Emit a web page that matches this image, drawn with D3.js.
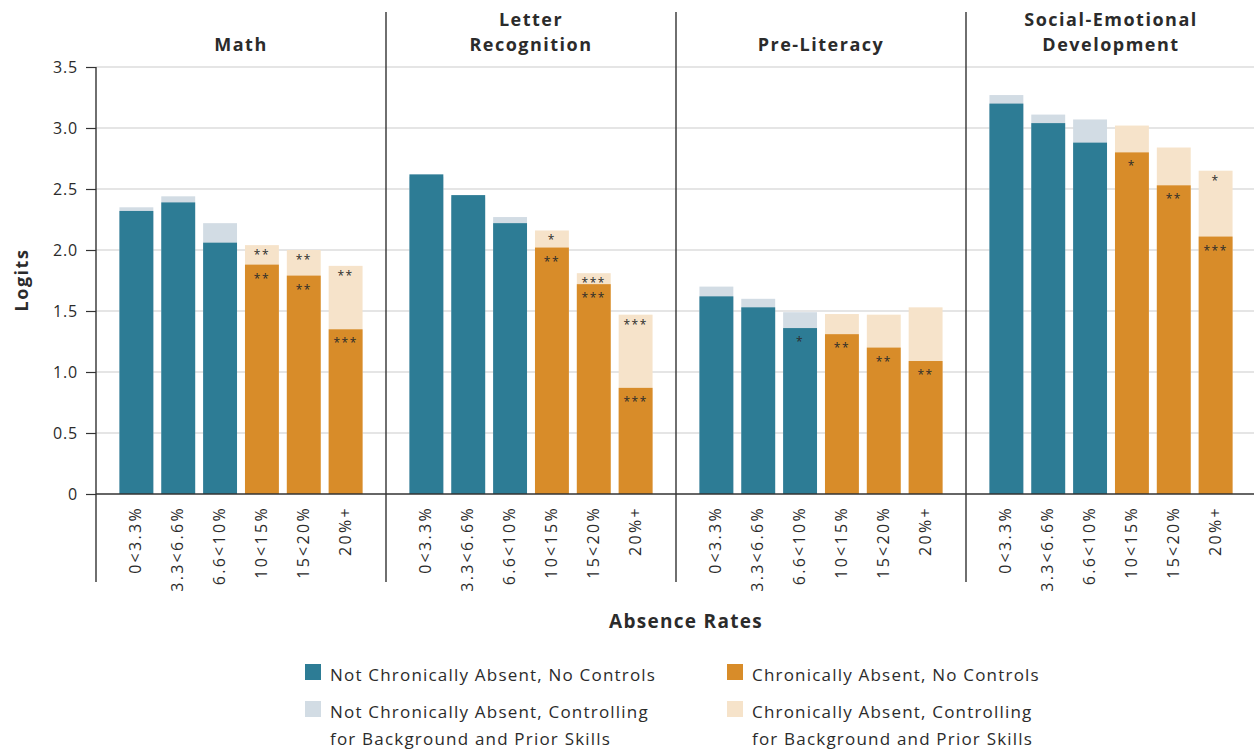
<!DOCTYPE html>
<html><head><meta charset="utf-8">
<script src="https://cdn.jsdelivr.net/npm/d3@7"></script>
<style>
body{margin:0;background:#fff;}
text{font-family:"Open Sans","DejaVu Sans",sans-serif;fill:#2b2b2b;}
</style></head>
<body><svg id="chart" width="1254" height="749"></svg>
<script>
const categories = ["0<3.3%","3.3<6.6%","6.6<10%","10<15%","15<20%","20%+"];
const chronic = [false,false,false,true,true,true];
const panelTitles = [["Math"],["Letter","Recognition"],["Pre-Literacy"],["Social-Emotional","Development"]];
const yTicks = [0,0.5,1.0,1.5,2.0,2.5,3.0,3.5];
const yTickLabels = ["0","0.5","1.0","1.5","2.0","2.5","3.0","3.5"];

const mathNoControls   = [2.32, 2.39, 2.06, 1.88, 1.79, 1.35];
const mathControls     = [2.35, 2.44, 2.22, 2.04, 2.00, 1.87];
const letterNoControls = [2.62, 2.45, 2.22, 2.02, 1.72, 0.87];
const letterControls   = [2.60, 2.43, 2.27, 2.16, 1.81, 1.47];
const preLitNoControls = [1.62, 1.53, 1.36, 1.31, 1.20, 1.09];
const preLitControls   = [1.70, 1.60, 1.49, 1.475, 1.47, 1.53];
const socialNoControls = [3.20, 3.04, 2.88, 2.80, 2.53, 2.11];
const socialControls   = [3.27, 3.11, 3.07, 3.02, 2.84, 2.65];

const mathStarsNo     = ["","","","**","**","***"];
const mathStarsCtrl   = ["","","","**","**","**"];
const letterStarsNo   = ["","","","**","***","***"];
const letterStarsCtrl = ["","","","*","***","***"];
const preLitStarsNo   = ["","","*","**","**","**"];
const preLitStarsCtrl = ["","","","","",""];
const socialStarsNo   = ["","","","*","**","***"];
const socialStarsCtrl = ["","","","","","*"];

const legendLabels = [
  ["Not Chronically Absent, No Controls"],
  ["Chronically Absent, No Controls"],
  ["Not Chronically Absent, Controlling","for Background and Prior Skills"],
  ["Chronically Absent, Controlling","for Background and Prior Skills"]
];

const panelsData = [
  {no: mathNoControls, ctrl: mathControls, sNo: mathStarsNo, sCtrl: mathStarsCtrl},
  {no: letterNoControls, ctrl: letterControls, sNo: letterStarsNo, sCtrl: letterStarsCtrl},
  {no: preLitNoControls, ctrl: preLitControls, sNo: preLitStarsNo, sCtrl: preLitStarsCtrl},
  {no: socialNoControls, ctrl: socialControls, sNo: socialStarsNo, sCtrl: socialStarsCtrl}
];

const C = {teal:"#2d7c95", tealLight:"#d2dce4", orange:"#d88c29", orangeLight:"#f6e3ca"};

const svg = d3.select("#chart");
const plotLeft = 96, plotRight = 1256, plotTop = 67, plotBottom = 494;
const y = d3.scaleLinear().domain([0,3.5]).range([plotBottom, plotTop]);
const panelX = d3.scaleBand().domain(d3.range(4)).range([plotLeft, plotRight]).padding(0);

svg.append("g").selectAll("line").data(yTicks.filter(d=>d>0)).join("line")
  .attr("x1", plotLeft).attr("x2", 1254).attr("y1", d=>y(d)).attr("y2", d=>y(d))
  .attr("stroke","#dcdcdc").attr("stroke-width",1.6);

const yAxis = d3.axisLeft(y).tickValues(yTicks).tickFormat((d,i)=>yTickLabels[i]).tickSize(10).tickPadding(8);
const yg = svg.append("g").attr("transform",`translate(${plotLeft},0)`).call(yAxis);
yg.select(".domain").remove();
yg.selectAll(".tick line").attr("stroke","#333").attr("stroke-width",1.2);
yg.selectAll(".tick text").style("font-size","16px").style("letter-spacing","0.8px").attr("fill","#333");
svg.append("line").attr("x1",plotLeft).attr("x2",plotLeft).attr("y1",plotTop).attr("y2",582).attr("stroke","#333").attr("stroke-width",1.4);

panelsData.forEach((p, pi) => {
  const x0 = panelX(pi), w = panelX.bandwidth();
  const x = d3.scaleBand().domain(categories).range([x0, x0 + w]).paddingInner(0.19).paddingOuter(0.56);
  const g = svg.append("g");
  g.selectAll("rect.ctrl").data(categories).join("rect").attr("class","ctrl")
    .attr("x", d=>x(d)).attr("width", x.bandwidth())
    .attr("y", (d,i)=>y(p.ctrl[i])).attr("height",(d,i)=>plotBottom - y(p.ctrl[i]))
    .attr("fill",(d,i)=>chronic[i]?C.orangeLight:C.tealLight);
  g.selectAll("rect.no").data(categories).join("rect").attr("class","no")
    .attr("x", d=>x(d)).attr("width", x.bandwidth())
    .attr("y", (d,i)=>y(p.no[i])).attr("height",(d,i)=>plotBottom - y(p.no[i]))
    .attr("fill",(d,i)=>chronic[i]?C.orange:C.teal);
  g.selectAll("text.sc").data(categories).join("text").attr("class","sc")
    .attr("x", d=>x(d)+x.bandwidth()/2).attr("y",(d,i)=>y(p.ctrl[i])+14)
    .attr("text-anchor","middle").style("font-size","12px").style("letter-spacing","1.5px")
    .text((d,i)=>p.sCtrl[i]);
  g.selectAll("text.sn").data(categories).join("text").attr("class","sn")
    .attr("x", d=>x(d)+x.bandwidth()/2).attr("y",(d,i)=>y(p.no[i])+18)
    .attr("text-anchor","middle").style("font-size","12px").style("letter-spacing","1.5px")
    .text((d,i)=>p.sNo[i]);
  g.selectAll("text.xl").data(categories).join("text").attr("class","xl")
    .attr("transform", d=>`translate(${x(d)+x.bandwidth()/2+5},506) rotate(-90)`)
    .attr("text-anchor","end").style("font-size","16px").style("letter-spacing","2.3px").attr("fill","#333")
    .text(d=>d);
  const lines = panelTitles[pi];
  lines.forEach((t, li) => {
    g.append("text").attr("x", x0 + w/2).attr("y", 51 - (lines.length - 1 - li)*25)
      .attr("text-anchor","middle").style("font-size","18px").style("font-weight","700")
      .style("letter-spacing","1.5px").text(t);
  });
  if (pi > 0) {
    svg.append("line").attr("x1",x0).attr("x2",x0).attr("y1",12).attr("y2",582)
      .attr("stroke","#333").attr("stroke-width",1.4);
  }
});

svg.append("line").attr("x1",plotLeft).attr("x2",1254).attr("y1",plotBottom).attr("y2",plotBottom)
  .attr("stroke","#333").attr("stroke-width",1.6);

svg.append("text").attr("transform",`translate(28,280) rotate(-90)`).attr("text-anchor","middle")
  .style("font-size","18px").style("font-weight","700").style("letter-spacing","1.5px").text("Logits");
svg.append("text").attr("x",686).attr("y",628).attr("text-anchor","middle")
  .style("font-size","19px").style("font-weight","700").style("letter-spacing","1.3px").text("Absence Rates");

const legColors = [C.teal, C.orange, C.tealLight, C.orangeLight];
const legPos = [[305,664],[727,664],[305,701],[727,701]];
legendLabels.forEach((lab, i) => {
  const [lx, ly] = legPos[i];
  svg.append("rect").attr("x",lx).attr("y",ly).attr("width",16).attr("height",16).attr("fill",legColors[i]);
  lab.forEach((t, li) => {
    svg.append("text").attr("x", lx + 25).attr("y", ly + 17 + li*27)
      .style("font-size","17px").style("letter-spacing","1.2px").attr("fill","#333").text(t);
  });
});
</script></body></html>
